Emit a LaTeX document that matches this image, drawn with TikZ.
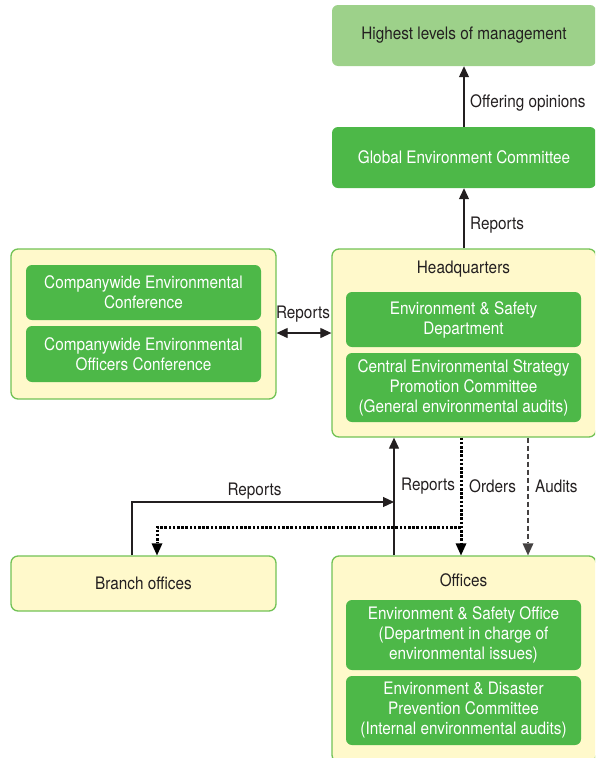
\documentclass[tikz,border=0pt]{standalone}
\usepackage{fontspec}
\setmainfont{TeX Gyre Heros}[FakeStretch=0.89]
\usetikzlibrary{arrows.meta}
\definecolor{dkgreen}{HTML}{4DB848}
\definecolor{ltgreen}{HTML}{9DD18A}
\definecolor{paleyel}{HTML}{FFF9CB}
\definecolor{bordgreen}{HTML}{72C255}
\definecolor{ink}{HTML}{231F20}
\begin{document}
\begin{tikzpicture}[x=1pt,y=-1pt,
  font=\fontsize{17.2}{20}\selectfont,
  topbox/.style={rectangle,rounded corners=6pt,fill=ltgreen,text=ink,minimum width=264pt,minimum height=61pt,inner sep=0pt},
  dkbox/.style={rectangle,rounded corners=6pt,fill=dkgreen,text=white,minimum width=264pt,minimum height=61pt,inner sep=0pt,align=center},
  outerbox/.style={rectangle,rounded corners=7pt,fill=paleyel,draw=bordgreen,line width=1.3pt,minimum width=264pt,inner sep=0pt,text=ink},
  innerbox/.style={rectangle,rounded corners=6pt,fill=dkgreen,text=white,minimum width=235pt,inner sep=0pt,align=center},
  lbl/.style={text=ink,inner sep=0pt},
  arr/.style={draw=ink,line width=1.2pt,-{Triangle[length=11pt,width=10pt]}},
  arrtwo/.style={draw=ink,line width=1.2pt,{Triangle[length=11pt,width=10pt]}-{Triangle[length=11pt,width=10pt]}},
  dotarr/.style={draw=black,line width=3pt,dash pattern=on 2.6pt off 1.6pt,-{Triangle[length=12pt,width=11pt,line width=0pt]}},
  dasharr/.style={draw=ink!85,line width=1.5pt,dash pattern=on 5pt off 3pt,-{Triangle[length=12pt,width=11pt,line width=0pt]}}
]
\useasboundingbox (0,0) rectangle (595,758);
\clip (0,0) rectangle (595,758);

% top
\node[topbox] (top) at (464,35.5) {Highest levels of management};
\node[dkbox] (gec) at (464,157.5) {Global Environment Committee};

% headquarters
\node[outerbox,minimum height=188pt] (hq) at (464,343) {};
\node[lbl] (hqt) at (463.5,269) {Headquarters};
\node[innerbox,minimum height=55pt] (hqa) at (463.5,319.5) {Environment \& Safety\\Department};
\node[innerbox,minimum height=69pt] (hqb) at (463.5,387.5) {Central Environmental Strategy\\Promotion Committee\\(General environmental audits)};

% left
\node[outerbox,minimum width=265pt,minimum height=150pt] (left) at (143.5,324) {};
\node[innerbox,minimum height=55pt] (la) at (143.5,292.5) {Companywide Environmental\\Conference};
\node[innerbox,minimum height=56pt] (lb) at (143.5,354) {Companywide Environmental\\Officers Conference};

% branch
\node[outerbox,minimum width=265pt,minimum height=55pt] (branch) at (143.5,583.5) {Branch offices};

% offices
\node[outerbox,minimum height=206pt] (off) at (464,659) {};
\node[lbl] (offt) at (463.5,580) {Offices};
\node[innerbox,minimum height=70pt] (oa) at (463.5,635) {Environment \& Safety Office\\(Department in charge of\\environmental issues)};
\node[innerbox,minimum height=69pt] (ob) at (463.5,710.5) {Environment \& Disaster\\Prevention Committee\\(Internal environmental audits)};

% coordinates
\coordinate (rowlr) at (0,333);
\coordinate (xv) at (394,0);
\coordinate (xb) at (132,0);
\coordinate (jn) at (394,502);
\coordinate (xo) at (461,0);
\coordinate (jd) at (461,527);
\coordinate (xbd) at (157,0);
\coordinate (xa) at (528,0);

% connectors
\draw[arr] (gec.north) -- (top.south);
\draw[arr] (hq.north) -- (gec.south);
\draw[arrtwo] (left.east |- rowlr) -- (hq.west |- rowlr);
\draw[arr] (off.north -| xv) -- (hq.south -| xv);
\draw[arr] (branch.north -| xb) |- (jn);
\draw[dotarr] (hq.south -| xo) -- (off.north -| xo);
\draw[dotarr] (jd) -| (branch.north -| xbd);
\draw[dasharr] (hq.south -| xa) -- (off.north -| xa);

% labels
\node[lbl,anchor=west] (l1) at (470,103) {Offering opinions};
\node[lbl,anchor=west] (l2) at (470,225) {Reports};
\node[lbl] (l3) at (303,314) {Reports};
\node[lbl] (l4) at (254.5,491) {Reports};
\node[lbl,anchor=west] (l5) at (401,486) {Reports};
\node[lbl,anchor=west] (l6) at (469,486) {Orders};
\node[lbl,anchor=west] (l7) at (535,486) {Audits};
\end{tikzpicture}
\end{document}
